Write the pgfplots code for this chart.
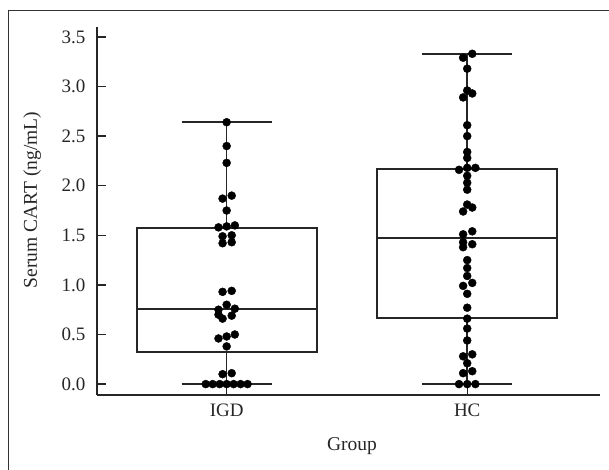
\documentclass[border=0pt]{standalone}
\usepackage{pgfplots}
\pgfplotsset{compat=1.18}
\usepgfplotslibrary{statistics}
\usepackage{fontspec}
\setmainfont{Liberation Serif}
\newcommand{\fs}{\fontsize{19}{22}\selectfont}
\newcommand{\fl}{\fontsize{19.5}{23}\selectfont}
\begin{document}
\begin{tikzpicture}
\useasboundingbox (-97pt,-74pt) rectangle (512pt,395pt);
\draw[line width=1pt, black!80] (-88pt,-80pt) -- (-88pt,384pt) -- (520pt,384pt);
\begin{axis}[
  at={(0pt,0pt)}, anchor=south west,
  scale only axis, width=503pt, height=368pt,
  xmin=-0.539, xmax=1.552, ymin=-0.11, ymax=3.6,
  axis x line*=bottom, axis y line*=left,
  axis line style={-, line width=1.5pt, black!85},
  tick align=inside,
  major tick length=9pt,
  tick style={line width=1.3pt, black!85},
  xtick={0,1}, xticklabels={IGD,HC},
  ytick={0,0.5,1,1.5,2,2.5,3,3.5},
  yticklabel style={/pgf/number format/fixed, /pgf/number format/fixed zerofill, /pgf/number format/precision=1, xshift=-8pt},
  /pgf/number format/assume math mode=true,
  xticklabel style={yshift=-5pt},
  ticklabel style={font=\fs, text=black!85},
  label style={font=\fl, text=black!85},
  xlabel={Group},
  ylabel={Serum CART (ng/mL)},
  xlabel style={at={(axis description cs:0.507,-0.139)}, anchor=center},
  ylabel style={at={(axis description cs:-0.129,0.53)}, anchor=center},
  boxplot/draw direction=y,
  boxplot/every box/.style={draw=black!85, line width=1.8pt},
  boxplot/every median/.style={draw=black!85, line width=1.6pt},
  boxplot/every whisker/.style={draw=black!85, line width=1.6pt},
  clip=false,
]
\addplot[draw=black!85, line width=1.6pt, boxplot prepared={lower whisker=0, lower quartile=0.32, median=0.76, upper quartile=1.57, upper whisker=2.64, draw position=0, box extend=0.748, whisker extend=0.374}] coordinates {};
\addplot[draw=black!85, line width=1.6pt, boxplot prepared={lower whisker=0, lower quartile=0.67, median=1.47, upper quartile=2.17, upper whisker=3.33, draw position=1, box extend=0.748, whisker extend=0.374}] coordinates {};
% IGD points
\addplot[only marks, mark=*, mark size=4pt, black] table {
x y
0 2.64
0 2.40
0 2.23
-0.017 1.87
0.021 1.90
0 1.75
-0.034 1.58
0 1.59
0.034 1.60
-0.017 1.49
0.021 1.50
-0.017 1.42
0.021 1.43
-0.017 0.93
0.021 0.94
0 0.80
-0.034 0.75
0.034 0.76
-0.034 0.70
0.021 0.69
-0.017 0.66
-0.034 0.46
0 0.48
0.034 0.50
0 0.38
-0.017 0.10
0.021 0.11
-0.087 0
-0.058 0
-0.029 0
0 0
0.029 0
0.058 0
0.087 0
};
% HC points
\addplot[only marks, mark=*, mark size=4pt, black] table {
x y
1.021 3.33
0.983 3.29
1 3.18
1 2.96
1.021 2.93
0.983 2.89
1 2.61
1 2.50
1 2.34
1 2.28
0.966 2.16
1 2.18
1.034 2.18
1 2.10
1 2.03
1 1.96
1 1.81
1.021 1.78
0.983 1.74
1.021 1.54
0.983 1.51
0.983 1.43
1.021 1.41
0.983 1.38
1 1.25
1 1.17
1 1.09
1.021 1.02
0.983 0.99
1 0.91
1 0.77
1 0.66
1 0.56
1 0.44
1.021 0.30
0.983 0.28
1 0.21
1.021 0.13
0.983 0.11
0.966 0
1 0
1.034 0
};
\end{axis}
\end{tikzpicture}
\end{document}
